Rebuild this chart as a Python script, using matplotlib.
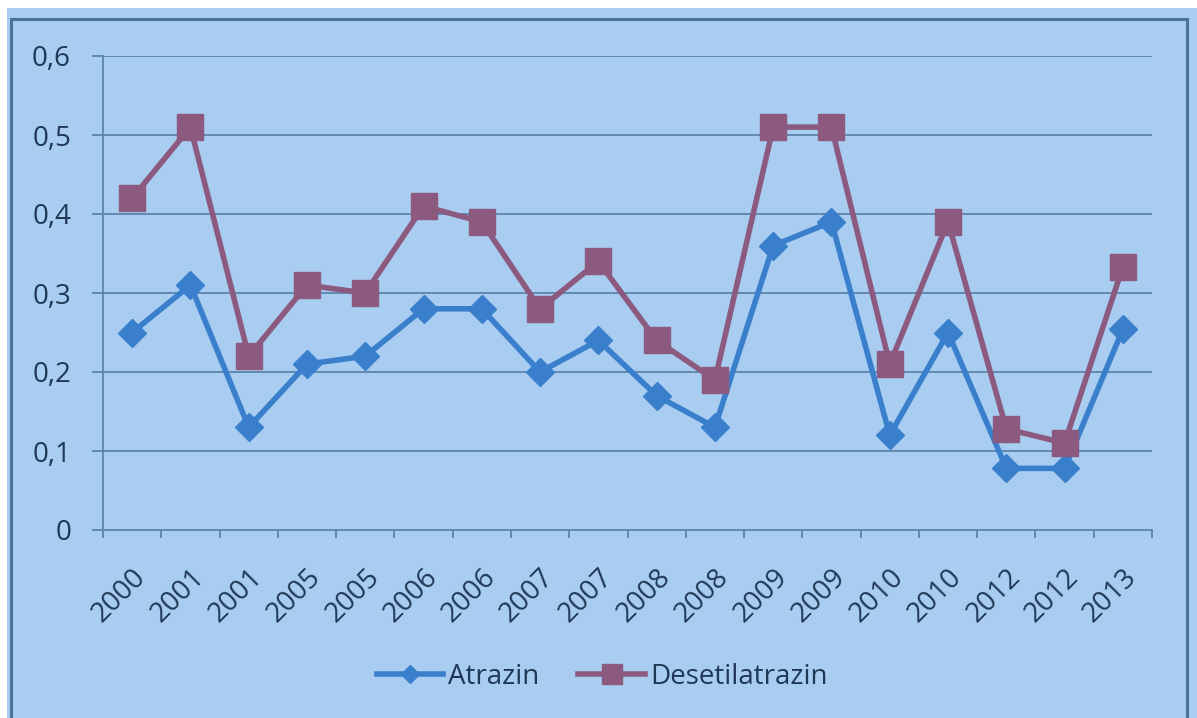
import numpy as np
import matplotlib
matplotlib.use("Agg")
import matplotlib.pyplot as plt
from matplotlib.patches import Rectangle

plt.rcParams['font.family'] = ['Open Sans', 'DejaVu Sans']

# data
years = ['2000', '2001', '2001', '2005', '2005', '2006', '2006', '2007', '2007',
         '2008', '2008', '2009', '2009', '2010', '2010', '2012', '2012', '2013']
atrazin = [0.25, 0.31, 0.13, 0.21, 0.22, 0.28, 0.28, 0.20, 0.24,
           0.17, 0.13, 0.36, 0.39, 0.12, 0.25, 0.078, 0.078, 0.254]
desetil = [0.42, 0.51, 0.22, 0.31, 0.30, 0.41, 0.39, 0.28, 0.34,
           0.24, 0.19, 0.51, 0.51, 0.21, 0.39, 0.128, 0.11, 0.333]
yticks = [0, 0.1, 0.2, 0.3, 0.4, 0.5, 0.6]
ylabels = ['0', '0,1', '0,2', '0,3', '0,4', '0,5', '0,6']

W, H = 1197, 718
bg = '#A9CDF1'
grid_c = '#5C84AC'
text_c = '#1F3856'
blue = '#3A7FCB'
purple = '#8B5A7E'
fs = 20

fig = plt.figure(figsize=(W/100, H/100), dpi=100, facecolor='white')

# outer frame (px coords)
fig.patches.append(Rectangle((7/W, 0), 1 - 7/W, (H - 8)/H, transform=fig.transFigure,
                             facecolor=bg, edgecolor='none', zorder=-2))
fig.patches.append(Rectangle((10.5/W, -0.05), (1187 - 10.5)/W, 0.05 + (H - 19)/H,
                             transform=fig.transFigure, facecolor='none',
                             edgecolor='#4C7398', lw=2.2, zorder=-1))

ax = fig.add_axes([103/W, (H - 530)/H, (1152 - 103)/W, (530 - 56)/H])
ax.set_facecolor(bg)

x = np.arange(len(years)) + 0.5
ax.plot(x, atrazin, color=blue, lw=4, marker='D', ms=14, label='Atrazin',
        solid_joinstyle='round', zorder=3)
ax.plot(x, desetil, color=purple, lw=4, marker='s', ms=19, label='Desetilatrazin',
        solid_joinstyle='round', zorder=4)

ax.set_xlim(0, len(years))
ax.set_ylim(0, 0.6)
ax.set_yticks(yticks)
ax.set_yticklabels(ylabels)
for v in yticks[1:]:
    ax.axhline(v, color=grid_c, lw=1.3, zorder=1)

ax.set_xticks(np.arange(len(years) + 1))
ax.set_xticklabels([])
ax.set_xticks(x, minor=True)
ax.set_xticklabels(years, minor=True, rotation=45, ha='right', va='top',
                   rotation_mode='anchor')
ax.tick_params(axis='x', which='major', length=6, width=1.3, color=grid_c, direction='out')
ax.tick_params(axis='x', which='minor', length=0, pad=24, labelsize=fs, labelcolor=text_c)
ax.tick_params(axis='y', length=8, width=1.3, color=grid_c, pad=15,
               labelsize=fs, labelcolor=text_c)

for s in ['top', 'right']:
    ax.spines[s].set_visible(False)
for s in ['left', 'bottom']:
    ax.spines[s].set_color(grid_c)
    ax.spines[s].set_linewidth(1.3)

leg = fig.legend(loc='center', bbox_to_anchor=(602/W, 1 - 677/H), ncol=2,
                 frameon=False, fontsize=fs, handlelength=2.4, handletextpad=0.18,
                 columnspacing=1.4, labelcolor=text_c)
leg.legend_handles[0].set_markersize(9)
leg.legend_handles[1].set_markersize(14)

fig.savefig('out.png', dpi=100, facecolor='white')
